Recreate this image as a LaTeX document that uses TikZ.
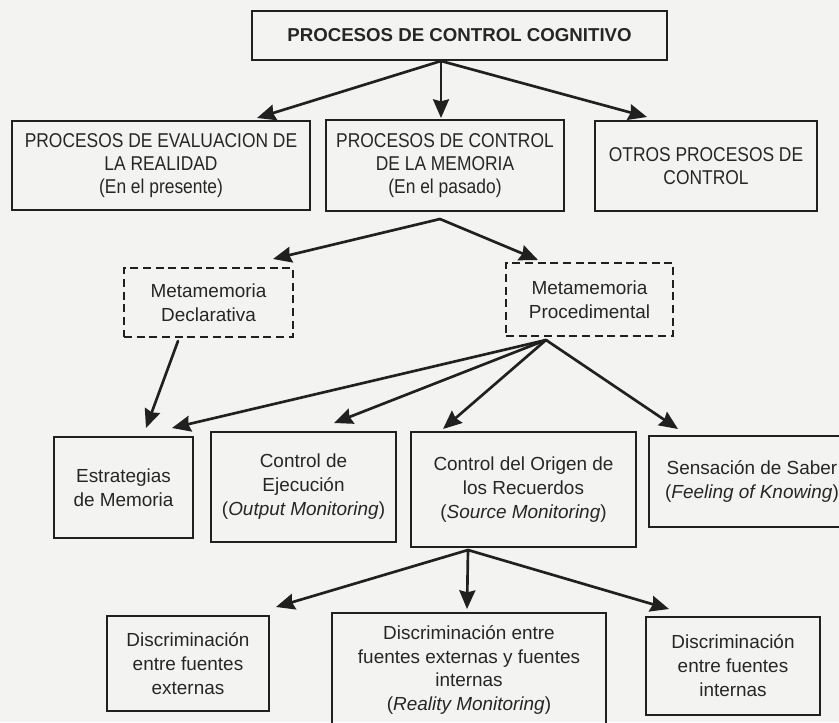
\documentclass[tikz,border=0pt]{standalone}
\usepackage{fontspec}
\setmainfont{Liberation Sans}
\newfontfamily\narrowfont[FakeStretch=0.87]{Liberation Sans}
\usetikzlibrary{arrows.meta}
\definecolor{ink}{HTML}{202020}
\definecolor{txt}{HTML}{262626}
\definecolor{paper}{HTML}{F3F3F1}
\tikzset{
  bx/.style 2 args={draw=ink, line width=1.5pt, rectangle, inner sep=0pt, outer sep=0pt,
    align=center, text=txt, minimum width=#1*0.75pt, minimum height=#2*0.75pt},
  lowtext/.style={font=\fontsize{14.2}{18}\selectfont},
  captext/.style={font=\narrowfont\fontsize{15}{17.25}\selectfont},
  toptext/.style={font=\bfseries\fontsize{14}{17}\selectfont},
  dbx/.style={dash pattern=on 6pt off 3.5pt},
  arr/.style={draw=ink, line width=2pt, line cap=round,
    -{Stealth[length=14pt,width=12pt,inset=1.5pt]}},
}
\begin{document}
\begin{tikzpicture}[x=0.75pt,y=-0.75pt]
\clip (0,0) rectangle (839,722);
\useasboundingbox (0,0) rectangle (839,722);
\fill[paper] (0,0) rectangle (839,722);

% top
\node[bx={415}{49}, toptext] (top) at (459.5,35.5) {PROCESOS DE CONTROL COGNITIVO};

% row 2
\node[bx={298}{89}, captext] (b1) at (161,165.5) {PROCESOS DE EVALUACION DE\\LA REALIDAD\\(En el presente)};
\node[bx={238}{91}, captext] (b2) at (445,165.5) {PROCESOS DE CONTROL\\DE LA MEMORIA\\(En el pasado)};
\node[bx={222}{90}, captext] (b3) at (706,166) {OTROS PROCESOS DE\\CONTROL};

\coordinate (t0) at (441,61);
\coordinate (t1) at (257,118);
\coordinate (t2) at (441,118);
\coordinate (t3) at (647,117);
\draw[arr] (t0) -- (t1);
\draw[arr] (t0) -- (t2);
\draw[arr] (t0) -- (t3);

% row 3 (dashed)
\node[bx={169}{69}, dbx, lowtext] (d1) at (208.5,302.5) {Metamemoria\\Declarativa};
\node[bx={167}{73}, dbx, lowtext] (d2) at (589.5,299.5) {Metamemoria\\Procedimental};

\coordinate (m0) at (440,219);
\coordinate (m1) at (273,259);
\coordinate (m2) at (538,260);
\draw[arr] (m0) -- (m1);
\draw[arr] (m0) -- (m2);

% row 4
\node[bx={139}{101}, lowtext] (e1) at (123.5,487.5) {Estrategias\\de Memoria};
\node[bx={185}{110}, lowtext] (e2) at (303.5,487) {Control de\\Ejecución\\(\textit{Output Monitoring})};
\node[bx={225}{115}, lowtext] (e3) at (523.5,489.5) {Control del Origen de\\los Recuerdos\\(\textit{Source Monitoring})};
\node[bx={206}{91}, lowtext] (e4) at (752,481.5) {Sensación de Saber\\(\textit{Feeling of Knowing})};

\coordinate (k0) at (178,341);
\coordinate (k1) at (146,428);
\draw[arr] (k0) -- (k1);

\coordinate (p0) at (546,340);
\coordinate (p1) at (172,428);
\coordinate (p2) at (334,423);
\coordinate (p3) at (443,429);
\coordinate (p4) at (678,429);
\draw[arr] (p0) -- (p1);
\draw[arr] (p0) -- (p2);
\draw[arr] (p0) -- (p3);
\draw[arr] (p0) -- (p4);

% row 5
\node[bx={162}{95}, lowtext] (f1) at (188,663.5) {Discriminación\\entre fuentes\\externas};
\node[bx={274}{114}, font=\fontsize{14.2}{17.6}\selectfont] (f2) at (469,670) {Discriminación entre\\fuentes externas y fuentes\\internas\\(\textit{Reality Monitoring})};
\node[bx={174}{98}, lowtext] (f3) at (733,666) {Discriminación\\entre fuentes\\internas};

\coordinate (s0) at (468,550);
\coordinate (s1) at (276,607);
\coordinate (s2) at (467,609);
\coordinate (s3) at (669,609);
\draw[arr] (s0) -- (s1);
\draw[arr] (s0) -- (s2);
\draw[arr] (s0) -- (s3);
\end{tikzpicture}
\end{document}
